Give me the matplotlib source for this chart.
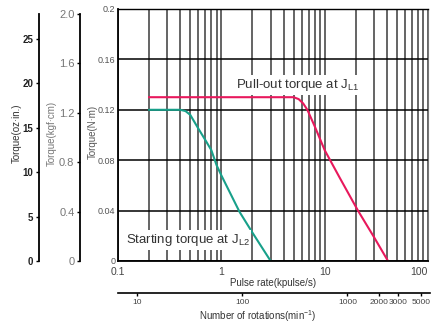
import numpy as np
import matplotlib
matplotlib.use("Agg")
import matplotlib.pyplot as plt
from matplotlib.ticker import FixedLocator, NullFormatter

plt.rcParams['font.family'] = ['Liberation Sans', 'DejaVu Sans']
narrow = ['Liberation Sans Narrow', 'Liberation Sans', 'DejaVu Sans']

# data
pull_x = [0.2, 5.0, 5.6, 6.2, 6.8, 8.0, 10, 14, 21, 30, 41]
pull_y = [0.13, 0.13, 0.1285, 0.125, 0.12, 0.107, 0.088, 0.066, 0.04, 0.019, 0.0]
start_x = [0.2, 0.4, 0.45, 0.5, 0.6, 0.7, 0.8, 0.9, 1.0, 1.5, 2.0, 3.0]
start_y = [0.12, 0.12, 0.119, 0.116, 0.105, 0.096, 0.088, 0.076, 0.068, 0.039, 0.0225, 0.0]

nm_ticks = [0, 0.04, 0.08, 0.12, 0.16, 0.2]
nm_labels = ["0", "0.04", "0.08", "0.12", "0.16", "0.2"]
kgf_ticks = [0, 0.4, 0.8, 1.2, 1.6, 2.0]
kgf_labels = ["0", "0.4", "0.8", "1.2", "1.6", "2.0"]
oz_ticks = [0, 5, 10, 15, 20, 25]
pps_ticks = [0.1, 1, 10, 100]
pps_labels = ["0.1", "1", "10", "100"]
rpm_ticks = [10, 100, 1000, 2000, 3000, 5000]
rpm_labels = ["10", "100", "1000", "2000", "3000", "5000"]

NM_TO_KGF = 10.197
NM_TO_OZ = 141.6

W, H = 434, 325
fig = plt.figure(figsize=(W / 100, H / 100), dpi=100)

def px(x0, y0, x1, y1):
    return [x0 / W, 1 - y1 / H, (x1 - x0) / W, (y1 - y0) / H]

# main axes
ax = fig.add_axes(px(118, 9, 428, 261))
ax.set_xscale('log')
ax.set_xlim(0.1, 100)
ax.set_ylim(0, 0.2)
ax.xaxis.set_major_locator(FixedLocator(pps_ticks))
ax.set_xticklabels(pps_labels)
minors = [m * d for d in [0.1, 1, 10] for m in range(2, 10)]
ax.xaxis.set_minor_locator(FixedLocator(minors))
ax.xaxis.set_minor_formatter(NullFormatter())
ax.set_yticks(nm_ticks)
ax.set_yticklabels(nm_labels)
ax.tick_params(axis='both', which='both', length=0)
ax.tick_params(axis='x', pad=4, labelsize=7.5, labelcolor='#444444')
ax.tick_params(axis='y', pad=2, labelsize=6.5, labelcolor='#555555')
for lab in ax.get_yticklabels():
    lab.set_family(narrow)
ax.get_xticklabels()[-1].set_ha('right')
ax.grid(True, axis='x', which='both', color='#4a4a4a', lw=1.2)
ax.grid(True, axis='y', which='major', color='black', lw=1.1)
for s in ['left', 'bottom']:
    ax.spines[s].set_linewidth(1.3)
ax.spines['top'].set_linewidth(1.0)
ax.spines['right'].set_color('#777777')
ax.set_axisbelow(True)

ax.plot(start_x, start_y, color='#18a08a', lw=1.5)
ax.plot(pull_x, pull_y, color='#e8185c', lw=1.5)

box = dict(facecolor='white', edgecolor='none', pad=1.2)
ax.text(1.39, 0.1397, r'Pull-out torque at J$_{\mathregular{L1}}$', fontsize=9.5,
        color='#333333', ha='left', va='center', bbox=box)
ax.text(0.119, 0.0167, r'Starting torque at J$_{\mathregular{L2}}$', fontsize=9.5,
        color='#333333', ha='left', va='center', bbox=box)

ax.set_xlabel('Pulse rate(kpulse/s)', fontsize=7, color='#333333', labelpad=1)

# rotations axis
axr = fig.add_axes(px(118, 293, 430, 293.1))
axr.set_xscale('log')
axr.set_xlim(6.6, 6095)
axr.set_yticks([])
for s in ['left', 'right', 'top']:
    axr.spines[s].set_visible(False)
axr.spines['bottom'].set_linewidth(1.2)
axr.patch.set_visible(False)
axr.xaxis.set_major_locator(FixedLocator(rpm_ticks))
axr.xaxis.set_minor_locator(FixedLocator([]))
axr.set_xticklabels(rpm_labels)
axr.tick_params(axis='x', direction='out', length=2.5, width=1, pad=2,
                labelsize=6, labelcolor='#444444')
for lab in axr.get_xticklabels():
    lab.set_family(narrow)
fig.text(258 / W, 1 - 316 / H, r'Number of rotations(min$^{\mathregular{-1}}$)',
         fontsize=7, color='#333333', ha='center', va='center')

# side torque axes
def side_axis(x, factor, ticks, labels, top, color, size, weight):
    a = fig.add_axes(px(x, 9, x + 0.5, 261))
    a.set_ylim(0, 0.2 * factor)
    a.set_xticks([])
    for s in ['right', 'top', 'bottom']:
        a.spines[s].set_visible(False)
    a.spines['left'].set_bounds(0, top)
    a.spines['left'].set_linewidth(1.3)
    a.patch.set_visible(False)
    a.set_yticks(ticks)
    a.set_yticklabels(labels)
    a.tick_params(axis='y', direction='out', length=2.5, width=1, pad=1.5,
                  labelsize=size, labelcolor=color)
    for lab in a.get_yticklabels():
        lab.set_fontweight(weight)
    return a

side_axis(80, NM_TO_KGF, kgf_ticks, kgf_labels, 2.0, '#777777', 8, 'normal')
side_axis(39, NM_TO_OZ, oz_ticks, [str(t) for t in oz_ticks],
          2.0 / NM_TO_KGF * NM_TO_OZ, '#222222', 7, 'bold')

fig.text(17 / W, 1 - 133 / H, 'Torque(oz·in.)', rotation=90, fontsize=7,
         color='#333333', ha='center', va='center')
fig.text(52 / W, 1 - 133 / H, 'Torque(kgf·cm)', rotation=90, fontsize=7,
         color='#777777', ha='center', va='center')
fig.text(93 / W, 1 - 132 / H, 'Torque(N·m)', rotation=90, fontsize=7,
         color='#555555', ha='center', va='center')

fig.savefig('out.png', dpi=100)
